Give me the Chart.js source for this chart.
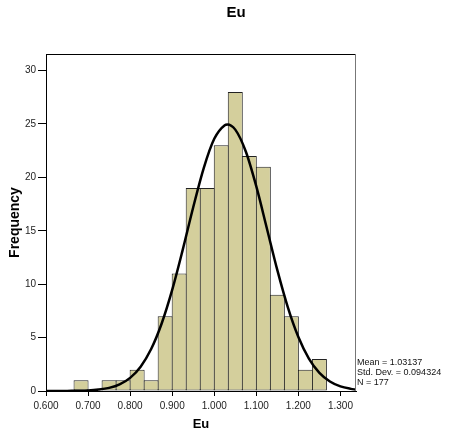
<!DOCTYPE html>
<html>
<head>
<meta charset="utf-8">
<script src="https://cdn.jsdelivr.net/npm/chart.js@4"></script>
<style>
  body { margin: 0; background: #fff; }
  canvas { display: block; }
</style>
</head>
<body>
<canvas id="histChart" width="454" height="439"></canvas>
<script>
// ================= DATA =================
const chartTitle = "Eu";
// bin centres (bin width 1/30)
const binCenters = [0.68333, 0.71667, 0.75, 0.78333, 0.81667, 0.85, 0.88333, 0.91667, 0.95,
    0.98333, 1.01667, 1.05, 1.08333, 1.11667, 1.15, 1.18333, 1.21667, 1.25];
const frequencies = [1, 0, 1, 1, 2, 1, 7, 11, 19, 19, 23, 28, 22, 21, 9, 7, 2, 3];

// normal curve
const curveX = [0.600, 0.650, 0.700, 0.725, 0.750, 0.775, 0.800, 0.825, 0.850, 0.875, 0.900,
    0.925, 0.950, 0.975, 1.000, 1.025, 1.031, 1.050, 1.075, 1.100, 1.125, 1.150, 1.175,
    1.200, 1.225, 1.250, 1.275, 1.300, 1.325, 1.337];
const curveY = [0.00, 0.01, 0.05, 0.13, 0.29, 0.62, 1.23, 2.28, 3.93, 6.32, 9.46,
    13.21, 17.20, 20.87, 23.61, 24.89, 24.95, 24.47, 22.42, 19.15, 15.24, 11.31, 7.83,
    5.05, 3.03, 1.70, 0.89, 0.43, 0.20, 0.13];

const xTicks = [0.6, 0.7, 0.8, 0.9, 1.0, 1.1, 1.2, 1.3];
const yTicks = [0, 5, 10, 15, 20, 25, 30];
const statsLines = ["Mean = 1.03137", "Std. Dev. = 0.094324", "N = 177"];

// ================= STYLE =================
const FONT = "'Liberation Sans', Arial, sans-serif";
const barFill = "#d4cf9c";
const barLine = "#222222";

// ================= PLUGINS =================
const frameAndText = {
    id: "frameAndText",
    afterDatasetsDraw(chart) {
        const { ctx, chartArea: a } = chart;
        ctx.save();
        // top and right frame
        ctx.strokeStyle = "#000";
        ctx.lineWidth = 1;
        ctx.beginPath();
        ctx.moveTo(a.left, a.top + 0.5);
        ctx.lineTo(a.right, a.top + 0.5);
        ctx.stroke();
        ctx.strokeStyle = "#777";
        ctx.beginPath();
        ctx.moveTo(a.right - 0.5, a.top);
        ctx.lineTo(a.right - 0.5, a.bottom);
        ctx.stroke();
        ctx.restore();
    },
    afterDraw(chart) {
        const { ctx } = chart;
        ctx.save();
        ctx.fillStyle = "#000";
        ctx.font = "bold 15px " + FONT;
        ctx.textAlign = "center";
        ctx.textBaseline = "middle";
        ctx.fillText(chartTitle, 236, 13);

        ctx.font = "9px " + FONT;
        ctx.textAlign = "left";
        ctx.fillStyle = "#111";
        statsLines.forEach((t, i) => ctx.fillText(t, 357, 363 + i * 10));
        ctx.restore();
    }
};

// ================= CHART =================
new Chart(document.getElementById("histChart"), {
    type: "bar",
    data: {
        datasets: [
            {
                type: "line",
                data: curveX.map((x, i) => ({ x, y: curveY[i] })),
                borderColor: "#000",
                borderWidth: 2.5,
                pointRadius: 0,
                cubicInterpolationMode: "monotone",
                fill: false,
                order: 0
            },
            {
                type: "bar",
                data: binCenters.map((x, i) => ({ x, y: frequencies[i] })),
                backgroundColor: barFill,
                borderColor: barLine,
                borderWidth: 1,
                borderSkipped: false,
                barPercentage: 1.07,
                categoryPercentage: 1,
                order: 1
            }
        ]
    },
    options: {
        responsive: false,
        animation: false,
        devicePixelRatio: 1,
        layout: { padding: { left: 0, top: 54, right: 98, bottom: 0 } },
        plugins: {
            legend: { display: false },
            tooltip: { enabled: false },
            title: { display: false }
        },
        scales: {
            x: {
                type: "linear",
                offset: false,
                min: 0.6,
                max: 1.337,
                afterBuildTicks: s => { s.ticks = xTicks.map(v => ({ value: v })); },
                afterFit: s => { s.height = 48; },
                ticks: {
                    callback: v => v.toFixed(3),
                    font: { family: FONT, size: 10 },
                    color: "#222",
                    padding: 4,
                    maxRotation: 0,
                    autoSkip: false
                },
                grid: { offset: false, drawOnChartArea: false, tickLength: 5, color: "#000" },
                border: { color: "#000", width: 1 },
                title: {
                    display: true,
                    text: "Eu",
                    font: { family: FONT, size: 13, weight: "bold" },
                    color: "#000",
                    padding: { top: 0, bottom: 7 }
                }
            },
            y: {
                min: 0,
                max: 31.55,
                afterBuildTicks: s => { s.ticks = yTicks.map(v => ({ value: v })); },
                afterFit: s => { s.width = 46; },
                ticks: {
                    font: { family: FONT, size: 10 },
                    color: "#222",
                    padding: 2
                },
                grid: { drawOnChartArea: false, tickLength: 8, color: "#000" },
                border: { color: "#000", width: 1 },
                title: {
                    display: true,
                    text: "Frequency",
                    font: { family: FONT, size: 14, weight: "bold" },
                    color: "#000",
                    padding: { top: 7, bottom: 0 }
                }
            }
        }
    },
    plugins: [frameAndText]
});
</script>
</body>
</html>
